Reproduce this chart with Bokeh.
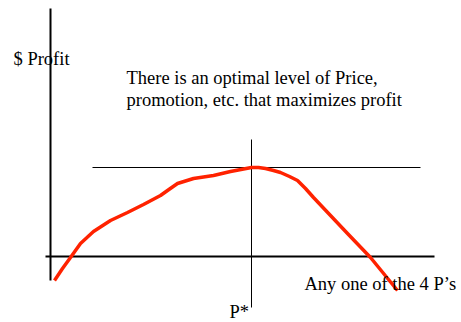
from bokeh.plotting import figure
from bokeh.models import Range1d
from bokeh.core.properties import value
from bokeh.embed import file_html
from bokeh.resources import INLINE

# Conceptual profit curve: level of one of the 4 P's vs. $ profit
p_level = [4, 12, 20, 30, 43, 60, 77, 93, 110, 117, 127, 143, 163, 180, 201,
           208, 215, 223, 230, 239, 247, 255, 263, 280, 297, 320, 347]
profit = [-24, -12, -1, 13, 25, 36, 44, 52, 61, 66, 73, 78, 81, 85, 89,
          89, 88, 86, 84, 80, 76, 68, 59, 41, 23, -1, -34]

# Axis extents
x_axis_span = [-5, 384]
y_axis_span = [-24, 248]
p_star = 201
p_star_span = [-51, 117]
max_line_span = [42, 370]

texts = ["$ Profit", "There is an optimal level of Price,",
         "promotion, etc. that maximizes profit", "Any one of the 4 P\u2019s", "P*"]
text_x = [-37, 76, 76, 254, 179]
text_y = [198, 179, 157, -27, -55]

W, H = 461, 322
p = figure(width=W, height=H, output_backend="svg", toolbar_location=None,
           x_range=Range1d(-50, -50 + W), y_range=Range1d(256 - H, 256),
           min_border=0, min_border_left=0, min_border_right=0,
           min_border_top=0, min_border_bottom=0)
p.axis.visible = False
p.grid.visible = False
p.outline_line_color = None
p.background_fill_color = "white"

# main axes
p.line(x=[0, 0], y=y_axis_span, line_color="black", line_width=2)
p.line(x=x_axis_span, y=[0, 0], line_color="black", line_width=2)
# P* vertical and maximum horizontal
p.line(x=[p_star, p_star], y=p_star_span, line_color="black", line_width=1)
p.line(x=max_line_span, y=[max(profit), max(profit)], line_color="black", line_width=1)

# profit curve
p.line(x=p_level, y=profit, line_color="#FF2200", line_width=3.5, line_join="round", line_cap="butt")

p.text(x=text_x, y=text_y, text=texts, text_font=value("Liberation Serif"),
       text_font_size="18.5px", text_color="black", text_baseline="alphabetic", text_align="left")

open("out.html", "w").write(file_html(p, INLINE))
